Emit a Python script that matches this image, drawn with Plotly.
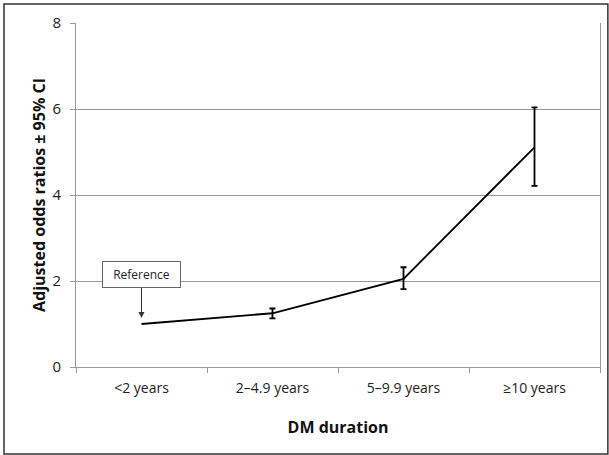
import plotly.graph_objects as go

categories = ["<2 years", "2\u20134.9 years", "5\u20139.9 years", "\u226510 years"]
odds_ratios = [1.0, 1.25, 2.05, 5.11]
ci_upper = [None, 1.36, 2.32, 6.04]
ci_lower = [None, 1.13, 1.81, 4.21]

ci_cats = categories[1:]
ci_vals = odds_ratios[1:]
err_plus = [u - v for u, v in zip(ci_upper[1:], ci_vals)]
err_minus = [v - l for l, v in zip(ci_lower[1:], ci_vals)]

font = "Open Sans, Lato, sans-serif"
fig = go.Figure()
fig.add_trace(go.Scatter(x=categories, y=odds_ratios, mode="lines",
                         line=dict(color="black", width=1.8), showlegend=False))
fig.add_trace(go.Scatter(x=ci_cats, y=ci_vals, mode="markers",
                         marker=dict(size=1, color="black"),
                         error_y=dict(type="data", symmetric=False, array=err_plus,
                                      arrayminus=err_minus, color="black",
                                      thickness=1.8, width=3),
                         showlegend=False))

fig.add_annotation(x=categories[0], y=1.14, xref="x", yref="y", text="Reference",
                   showarrow=True, ax=0, ay=-43, arrowhead=2, arrowsize=1.2,
                   arrowwidth=1, arrowcolor="#333", bordercolor="#666",
                   borderwidth=1, borderpad=5, bgcolor="white",
                   width=67, height=15,
                   font=dict(family=font, size=12, color="#222"))

fig.add_shape(type="rect", xref="paper", yref="paper",
              x0=-0.1374, x1=1.015, y0=-0.2529, y1=1.0552,
              line=dict(color="#333", width=1.5), layer="below")

fig.update_layout(
    width=609, height=455,
    margin=dict(l=76, r=9, t=23, b=88),
    paper_bgcolor="white", plot_bgcolor="white",
    font=dict(family=font, size=14, color="#222"),
)
fig.update_xaxes(type="category", range=[-0.5, 3.5], tickson="boundaries",
                 ticks="outside", ticklen=5, tickcolor="#999", showline=True,
                 linecolor="#999", linewidth=1, showgrid=False,
                 ticklabelstandoff=8,
                 tickfont=dict(family=font, size=14, color="#222"),
                 title=dict(text="<b>DM duration</b>", standoff=26,
                            font=dict(family=font, size=16, color="#111")))
fig.update_yaxes(range=[0, 8], tickvals=[0, 2, 4, 6, 8], ticks="outside",
                 ticklen=5, tickcolor="#999", showline=True, linecolor="#999",
                 mirror=True, linewidth=1, showgrid=True, gridcolor="#999",
                 gridwidth=1, zeroline=False, ticklabelstandoff=6,
                 tickfont=dict(family=font, size=15, color="#222"),
                 title=dict(text="<b>Adjusted odds ratios \u00b1 95% CI</b>",
                            standoff=2,
                            font=dict(family=font, size=16, color="#111")))

fig.write_html("out.html", config={"displayModeBar": False})
with open("out.html", "r", encoding="utf-8") as f:
    html = f.read()
html = html.replace("<head>", "<head><style>html,body{margin:0;padding:0;overflow:hidden}</style>", 1)
with open("out.html", "w", encoding="utf-8") as f:
    f.write(html)
